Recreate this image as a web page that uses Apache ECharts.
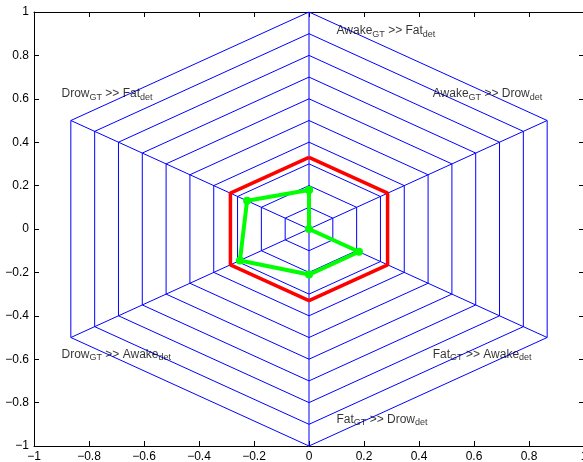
<!DOCTYPE html>
<html>
<head>
<meta charset="utf-8">
<script src="https://cdn.jsdelivr.net/npm/echarts@6/dist/echarts.min.js"></script>
<style>
html,body{margin:0;padding:0;background:#fff;}
#c{width:583px;height:462px;}
</style>
</head>
<body>
<div id="c"></div>
<script>
// ---- data ----
var axisAnglesDeg = [90, 30, -30, -90, -150, 150];          // clockwise from top
var gtNames  = ['Awake', 'Awake', 'Fat', 'Fat', 'Drow', 'Drow'];
var detNames = ['Fat', 'Drow', 'Awake', 'Drow', 'Awake', 'Fat'];
var ringRadii = [0.1, 0.2, 0.3, 0.4, 0.5, 0.6, 0.7, 0.8, 0.9, 1.0];
var redRadius = 0.33;
var greenValues = [0.18, 0.0, 0.21, 0.21, 0.29, 0.26];
var labelX = [0.10, 0.45, 0.45, 0.10, -0.90, -0.90];
var labelY = [0.94, 0.65, -0.55, -0.85, -0.55, 0.65];
var xTicks = [-1, -0.8, -0.6, -0.4, -0.2, 0, 0.2, 0.4, 0.6, 0.8, 1];
var yTicks = [-1, -0.8, -0.6, -0.4, -0.2, 0, 0.2, 0.4, 0.6, 0.8, 1];

function polar(r, deg) {
  var a = deg * Math.PI / 180;
  return [r * Math.cos(a), r * Math.sin(a)];
}
function ring(rs) {
  var pts = [];
  for (var i = 0; i <= axisAnglesDeg.length; i++) {
    var k = i % axisAnglesDeg.length;
    var r = Array.isArray(rs) ? rs[k] : rs;
    pts.push(polar(r, axisAnglesDeg[k]));
  }
  return pts;
}
function fmt(v) {
  var s = (Math.round(v * 10) / 10).toString();
  return s.replace('-', '\u2212');
}

var series = [];
ringRadii.forEach(function (r) {
  series.push({ type: 'line', data: ring(r), symbol: 'none', silent: true,
    lineStyle: { color: '#0000ff', width: 1 } });
});
axisAnglesDeg.forEach(function (d) {
  series.push({ type: 'line', data: [[0, 0], polar(1, d)], symbol: 'none', silent: true,
    lineStyle: { color: '#0000ff', width: 1 } });
});
series.push({ type: 'line', data: ring(redRadius), symbol: 'none', silent: true,
  lineStyle: { color: '#ff0000', width: 3.5 }, z: 3 });
series.push({ type: 'line', data: ring(greenValues), symbol: 'circle', symbolSize: 8, showAllSymbol: true,
  silent: true, itemStyle: { color: '#00ff00' },
  lineStyle: { color: '#00ff00', width: 4 }, z: 4 });

var labelData = labelX.map(function (x, i) {
  return { value: [x, labelY[i]],
    label: { formatter: '{m|' + gtNames[i] + '}{s|GT}{m| >> ' + detNames[i] + '}{s|det}' } };
});
series.push({ type: 'scatter', data: labelData, symbolSize: 0, silent: true, z: 5,
  label: { show: true, position: [0, 0], align: 'left', verticalAlign: 'top',
    fontFamily: 'Liberation Sans, Arial, sans-serif',
    rich: {
      m: { fontSize: 12, lineHeight: 14, color: '#000', verticalAlign: 'top', fontFamily: 'Liberation Sans, Arial, sans-serif' },
      s: { fontSize: 9, lineHeight: 10, padding: [9, 0, 0, 0], color: '#000', verticalAlign: 'bottom', fontFamily: 'Liberation Sans, Arial, sans-serif' }
    } } });

var axisCommon = {
  type: 'value', min: -1, max: 1, interval: 0.2,
  splitLine: { show: false },
  axisLine: { show: true, onZero: false, lineStyle: { color: '#000', width: 1 } },
  axisTick: { show: true, inside: true, length: 5, lineStyle: { color: '#000' } }
};
function ax(extra) { return Object.assign({}, JSON.parse(JSON.stringify(axisCommon)), extra); }

var chart = echarts.init(document.getElementById('c'), null, { renderer: 'canvas' });
chart.setOption({
  animation: false,
  backgroundColor: '#fff',
  grid: { left: 34, top: 12, width: 550, height: 434, containLabel: false, outerBoundsMode: 'none' },
  xAxis: [
    ax({ position: 'bottom', axisLabel: { color: '#000', fontSize: 12, margin: 5,
      fontFamily: 'Liberation Sans, Arial, sans-serif', formatter: fmt } }),
    ax({ position: 'top', axisLabel: { show: false } })
  ],
  yAxis: [
    ax({ position: 'left', axisLabel: { color: '#000', fontSize: 12, margin: 5,
      fontFamily: 'Liberation Sans, Arial, sans-serif', formatter: fmt } }),
    ax({ position: 'right', axisLabel: { show: false } })
  ],
  series: series
});
</script>
</body>
</html>
